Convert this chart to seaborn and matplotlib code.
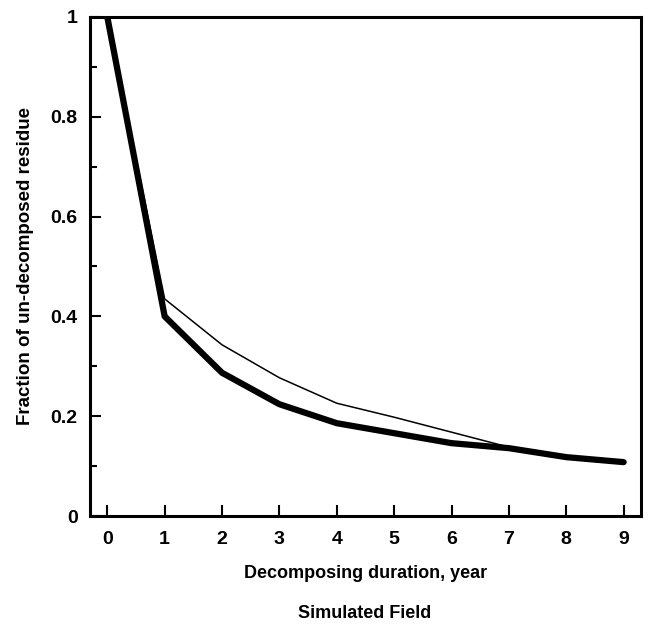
import matplotlib
matplotlib.use("Agg")
import matplotlib.pyplot as plt
import seaborn as sns
import pandas as pd

years = [0, 1, 2, 3, 4, 5, 6, 7, 8, 9]
simulated = [1.0, 0.435, 0.343, 0.277, 0.226, 0.198, 0.168, 0.138, 0.118, 0.108]
field = [1.0, 0.40, 0.287, 0.224, 0.186, 0.166, 0.146, 0.136, 0.118, 0.108]
y_major = [0, 0.2, 0.4, 0.6, 0.8, 1.0]
y_major_labels = ["0", "0.2", "0.4", "0.6", "0.8", "1"]
y_minor = [0.1, 0.3, 0.5, 0.7, 0.9]

sns.set_theme(style="ticks")
plt.rcParams['font.family'] = ['Liberation Sans', 'DejaVu Sans']
plt.rcParams['text.color'] = 'black'
plt.rcParams['axes.labelcolor'] = 'black'
plt.rcParams['xtick.color'] = 'black'
plt.rcParams['ytick.color'] = 'black'
plt.rcParams['axes.edgecolor'] = 'black'

df_sim = pd.DataFrame({"year": years, "frac": simulated})
df_fld = pd.DataFrame({"year": years, "frac": field})

fig = plt.figure(figsize=(6.48, 6.24), dpi=100)
ax = fig.add_axes([0.139, 0.173, 0.850, 0.800])

sns.lineplot(data=df_sim, x="year", y="frac", ax=ax, color="black", linewidth=1.1)
sns.lineplot(data=df_fld, x="year", y="frac", ax=ax, color="black", linewidth=4.5,
             solid_capstyle="round")

ax.set_xlim(-0.3, 9.3)
ax.set_ylim(0, 1)
ax.set_xticks(years)
ax.set_xticklabels([str(y) for y in years])
ax.set_yticks(y_major)
ax.set_yticklabels(y_major_labels)
ax.set_yticks(y_minor, minor=True)
ax.tick_params(axis="x", which="major", direction="in", length=8, width=1.5,
               labelsize=14, pad=11)
ax.tick_params(axis="y", which="major", direction="in", length=8, width=1.5,
               labelsize=14, pad=9)
ax.tick_params(axis="y", which="minor", direction="in", length=5, width=1.5)
for lab in ax.get_xticklabels() + ax.get_yticklabels():
    lab.set_fontweight("bold")
for s in ax.spines.values():
    s.set_linewidth(2.2)
    s.set_visible(True)

ax.set_xlabel("Decomposing duration, year", fontsize=13, fontweight="bold", labelpad=12)
ax.set_ylabel("Fraction of un-decomposed residue", fontsize=13.5, fontweight="bold", labelpad=12)

fig.text(0.563, 0.003, "Simulated Field", ha="center", va="bottom", fontsize=13,
         fontweight="bold")

fig.savefig("out.png", dpi=100)
